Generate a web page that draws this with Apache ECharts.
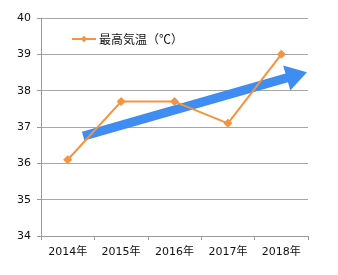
<!DOCTYPE html>
<html><head><meta charset="utf-8">
<script src="https://cdn.jsdelivr.net/npm/echarts@6/dist/echarts.min.js"></script>
<style>html,body{margin:0;padding:0;background:#fff}#c{width:338px;height:275px}</style>
</head><body><div id="c"></div>
<script>
const categories = ['2014年','2015年','2016年','2017年','2018年'];
const seriesName = '最高気温（℃）';
const maxTemp = [36.1, 37.7, 37.7, 37.1, 39.0];
const yTicks = [34, 35, 36, 37, 38, 39, 40];
// trend arrow: [category position, value] for tail and tip
const trendArrow = [[0.29, 36.75], [4.48, 38.51]];

const chart = echarts.init(document.getElementById('c'), null, {renderer:'canvas'});
const font = '"DejaVu Sans", "Noto Sans CJK JP", sans-serif';
chart.setOption({
  animation:false,
  backgroundColor:'#fff',
  textStyle:{fontFamily:font},
  grid:{left:41, right:30, top:18, bottom:39},
  legend:{
    data:[seriesName], left:71, top:33, padding:0, itemWidth:24, itemHeight:8, itemGap:0,
    textStyle:{fontSize:12, color:'#111', padding:[0,0,0,-2], fontFamily:'"Noto Sans CJK JP", sans-serif'}
  },
  xAxis:[{
    type:'category', data:categories, boundaryGap:true,
    axisLine:{lineStyle:{color:'#9a9a9a', width:1}},
    axisTick:{show:true, length:4, lineStyle:{color:'#9a9a9a'}},
    axisLabel:{color:'#111', fontSize:11, margin:11, fontFamily:font}
  },{
    type:'value', min:-0.5, max:4.5, show:false
  }],
  yAxis:{
    type:'value', min:yTicks[0], max:yTicks[yTicks.length-1], interval:1,
    axisLine:{show:true, onZero:false, lineStyle:{color:'#9a9a9a'}},
    axisTick:{show:true, length:4, lineStyle:{color:'#9a9a9a'}},
    splitLine:{lineStyle:{color:'#a6a6a6', width:1}},
    axisLabel:{color:'#111', fontSize:11, margin:10, fontFamily:font}
  },
  series:[{
    type:'custom', xAxisIndex:1, z:1, silent:true,
    data:[[trendArrow[0][0], trendArrow[0][1], trendArrow[1][0], trendArrow[1][1]]],
    renderItem:function(params, api){
      const a = api.coord([api.value(0), api.value(1)]);
      const b = api.coord([api.value(2), api.value(3)]);
      const dx=b[0]-a[0], dy=b[1]-a[1], L=Math.hypot(dx,dy);
      const ux=dx/L, uy=dy/L, nx=-uy, ny=ux;
      const sw=4.5, hw=13, hl=21;
      const hb=[b[0]-ux*hl, b[1]-uy*hl];
      const pts=[
        [a[0]+nx*sw, a[1]+ny*sw],
        [hb[0]+nx*sw, hb[1]+ny*sw],
        [hb[0]+nx*hw, hb[1]+ny*hw],
        b,
        [hb[0]-nx*hw, hb[1]-ny*hw],
        [hb[0]-nx*sw, hb[1]-ny*sw],
        [a[0]-nx*sw, a[1]-ny*sw]
      ];
      return {type:'polygon', shape:{points:pts}, style:{fill:'#3f8cf2'}};
    }
  },{
    name:seriesName, type:'line', data:maxTemp, z:3,
    symbol:'diamond', symbolSize:9,
    lineStyle:{color:'#f7923e', width:2},
    itemStyle:{color:'#f7923e'}
  }]
});
</script></body></html>
